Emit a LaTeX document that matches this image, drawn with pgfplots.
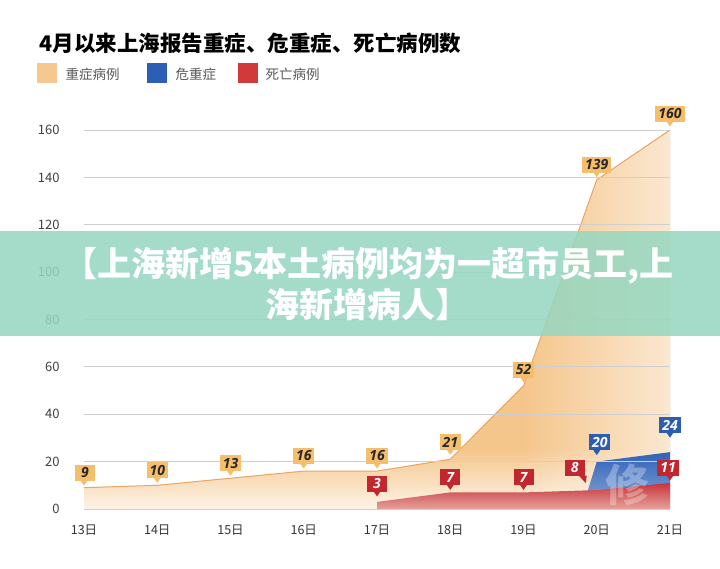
\documentclass[border=0pt]{standalone}
\usepackage{fontspec}
\setmainfont{Noto Sans CJK SC}
\newfontfamily\numfont{Open Sans}
\usepackage{pgfplots}
\pgfplotsset{compat=1.18}
\usetikzlibrary{fadings}

\definecolor{ormid}{HTML}{F5C68C}
\definecolor{orpale}{HTML}{FDF3E6}
\definecolor{orline}{HTML}{E9A466}
\definecolor{orbox}{HTML}{F4BE6C}
\definecolor{redbox}{HTML}{C2272D}
\definecolor{redtop}{HTML}{C8343A}
\definecolor{redbot}{HTML}{E6A29B}
\definecolor{bluebox}{HTML}{2D5DB0}
\definecolor{bluetop}{HTML}{2F62B8}
\definecolor{bluebot}{HTML}{90A9D8}
\definecolor{legor}{HTML}{F4C88E}
\definecolor{legblue}{HTML}{2C5FB3}
\definecolor{legred}{HTML}{D2393B}
\definecolor{gridc}{HTML}{CFCFCF}
\definecolor{banner}{HTML}{96D7C0}

\pgfdeclareverticalshading{orfade}{100bp}{color(0bp)=(orpale); color(25bp)=(orpale); color(33bp)=(ormid); color(100bp)=(ormid)}

\tikzset{
  box/.style={rectangle, anchor=south, inner xsep=3pt, inner ysep=0pt,
    minimum height=16pt, minimum width=20pt,
    font=\numfont\bfseries\itshape\fontsize{14}{14}\selectfont},
}
% #1 fill, #2 text colour, #3 point, #4 text, #5 box xshift, #6 box lift
\newcommand\lab[6]{%
  \node[box, fill=#1, text=#2, xshift=#5pt, yshift=#6pt] at (#3) {#4};
  \fill[#1] ([shift={(-3.5pt,#6pt+0.5pt)}]#3) -- ([shift={(3.5pt,#6pt+0.5pt)}]#3)
    -- ([shift={(0pt,#6pt-4.5pt)}]#3) -- cycle;
}

\begin{document}
\begin{tikzpicture}[x=1pt,y=1pt]
\path[use as bounding box, fill=white] (0,0) rectangle (720,568);

% title and legend
\node[anchor=west, font=\bfseries\fontsize{21.5}{21.5}\selectfont] at (36,525) {4月以来上海报告重症、危重症、死亡病例数};
\fill[legor] (37,485) rectangle (57,505);
\node[anchor=west, text=black!65, font=\fontsize{13.5}{13.5}\selectfont] at (62,494) {重症病例};
\fill[legblue] (147,485) rectangle (167,505);
\node[anchor=west, text=black!65, font=\fontsize{13.5}{13.5}\selectfont] at (172,494) {危重症};
\fill[legred] (238,485) rectangle (258,505);
\node[anchor=west, text=black!65, font=\fontsize{13.5}{13.5}\selectfont] at (262,494) {死亡病例};

\begin{axis}[
    at={(84pt,59pt)}, anchor=south west,
    scale only axis, width=586pt, height=379pt,
    xmin=13, xmax=21, ymin=0, ymax=160,
    clip=false, axis on top,
    axis line style={draw=none},
    major tick length=0pt,
    ytick={0,20,...,160},
    xtick={13,...,21},
    xticklabels={13日,14日,15日,16日,17日,18日,19日,20日,21日},
    ymajorgrids, grid style={gridc, line width=0.9pt},
    /pgf/number format/assume math mode=true,
    yticklabel style={font=\fontsize{13}{13}\selectfont, text=black!75, xshift=-21pt},
    xticklabel style={font=\fontsize{12.5}{12.5}\selectfont, text=black!80, yshift=-12pt},
  ]
  % severe cases
  \addplot[draw=none, shade, shading=orfade] coordinates {
    (13,9) (14,10) (15,13) (16,16) (17,16) (18,21) (19,52) (20,139) (21,160)
  } \closedcycle;
  \addplot[draw=none, fill=white, fill opacity=0.6, path fading=west] coordinates {
    (19,52) (20,139) (21,160)
  } \closedcycle;
  \addplot[orline, line width=1pt] coordinates {
    (13,9) (14,10) (15,13) (16,16) (17,16) (18,21) (19,52) (20,139) (21,160)
  };
  % critical cases
  \addplot[draw=none, top color=bluetop, bottom color=bluebot] coordinates {
    (19.8,0) (20,20) (21,24)
  } \closedcycle;
  % deaths
  \addplot[draw=none, top color=redtop, bottom color=redbot] coordinates {
    (17,3) (18,7) (19,7) (20,8) (21,11)
  } \closedcycle;

  \coordinate (o13) at (axis cs:13,9);
  \coordinate (o14) at (axis cs:14,10);
  \coordinate (o15) at (axis cs:15,13);
  \coordinate (o16) at (axis cs:16,16);
  \coordinate (o17) at (axis cs:17,16);
  \coordinate (o18) at (axis cs:18,21);
  \coordinate (o19) at (axis cs:19,52);
  \coordinate (o20) at (axis cs:20,139);
  \coordinate (o21) at (axis cs:21,160);
  \coordinate (b20) at (axis cs:20,20);
  \coordinate (b21) at (axis cs:21,24);
  \coordinate (r17) at (axis cs:17,3);
  \coordinate (r18) at (axis cs:18,7);
  \coordinate (r19) at (axis cs:19,7);
  \coordinate (r20) at (axis cs:20,8);
  \coordinate (r21) at (axis cs:21,11);
\end{axis}

% watermark
\begin{scope}
  \clip (575,59) rectangle (669,130);
  \node[text=white, opacity=0.3, font=\bfseries\fontsize{44}{44}\selectfont] at (627,83) {修};
\end{scope}

% value labels
\lab{orbox}{black!85}{o13}{9}{1}{6.5}
\lab{orbox}{black!85}{o14}{10}{0}{7}
\lab{orbox}{black!85}{o15}{13}{0}{7}
\lab{orbox}{black!85}{o16}{16}{0}{7}
\lab{orbox}{black!85}{o17}{16}{0}{7}
\lab{orbox}{black!85}{o18}{21}{0}{9}
\lab{orbox}{black!85}{o19}{52}{0}{8}
\lab{orbox}{black!85}{o20}{139}{0}{7}
\lab{orbox}{black!85}{o21}{160}{0}{8}
\lab{bluebox}{white}{b20}{20}{3}{11}
\lab{bluebox}{white}{b21}{24}{0}{19}
\lab{redbox}{white}{r17}{3}{0}{10}
\lab{redbox}{white}{r18}{7}{0}{7}
\lab{redbox}{white}{r19}{7}{0}{7}
\lab{redbox}{white}{r21}{11}{-2}{7}
% the label of 8 sits to the left of its point
\node[box, fill=redbox, text=white, xshift=-22pt, yshift=14pt] at (r20) {8};
\fill[redbox] ([shift={(-18pt,14.5pt)}]r20) -- ([shift={(-10pt,14.5pt)}]r20)
  -- ([shift={(-11pt,7pt)}]r20) -- cycle;

% banner
\fill[banner, opacity=0.85] (0,232) rectangle (720,337);
\node[text=white, font=\bfseries\fontsize{34}{34}\selectfont] at (368.5,302) {【上海新增5本土病例均为一超市员工,上};
\node[text=white, font=\bfseries\fontsize{34}{34}\selectfont] at (367,264) {海新增病人】};
\end{tikzpicture}
\end{document}
